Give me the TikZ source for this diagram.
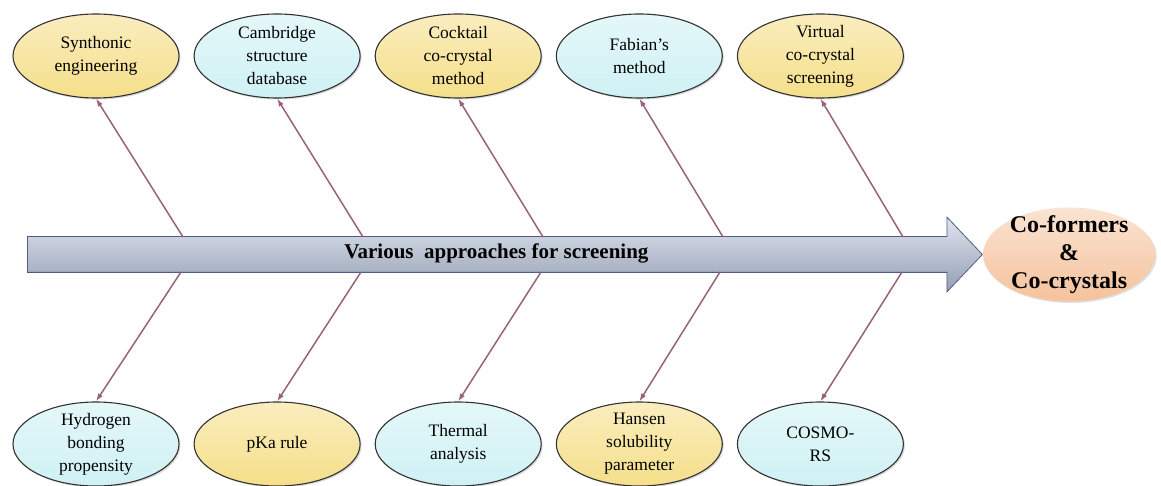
\documentclass[tikz,border=0pt]{standalone}
\usepackage{fontspec}
\setmainfont{Liberation Serif}
\usepackage{xcolor}
\usetikzlibrary{shapes.geometric,shapes.arrows,arrows.meta,positioning,shadows}
\definecolor{ovalYellow}{HTML}{F5DF8A}
\definecolor{ovalCyan}{HTML}{CFF1F4}
\definecolor{ovalPeach}{HTML}{F5C29C}
\definecolor{spineBlue}{HTML}{AEBBD3}
\definecolor{spineEdge}{HTML}{4E5E82}
\definecolor{boneMauve}{HTML}{98627A}

\begin{document}
\begin{tikzpicture}[
    x=1pt, y=1pt,
    node distance=14pt,
    >={Latex[length=8pt,width=5.5pt]},
    oval/.style={ellipse, draw=black!80, line width=1.1pt, minimum width=166pt, minimum height=84pt, inner sep=-2pt, align=center, font=\fontsize{17.5}{23}\selectfont, drop shadow={opacity=0.3, shadow xshift=1.5pt, shadow yshift=-1.5pt}},
    yoval/.style={oval, top color=ovalYellow!55!white, bottom color=ovalYellow},
    coval/.style={oval, top color=ovalCyan!55!white, bottom color=ovalCyan},
    bone/.style={->, draw=boneMauve, line width=1.5pt},
]

% Page frame
\useasboundingbox (0,0) rectangle (1161,485);

% Spine arrow
\node[single arrow, draw=spineEdge, thick, top color=spineBlue!40!white, bottom color=spineBlue!85!black,
      minimum height=955pt, single arrow head extend=19.5pt, single arrow tip angle=93, single arrow head indent=0pt,
      text height=13pt, text depth=4pt, inner ysep=9pt, font=\fontsize{21}{25}\selectfont\bfseries,
      anchor=tail] (spine) at (27,230.5) {Various\ \ approaches for screening};

% Result
\node[ellipse, draw=none, top color=ovalPeach!45!white, bottom color=ovalPeach, minimum width=172pt, minimum height=94pt,
      inner sep=-6pt, align=center, font=\fontsize{24}{28}\selectfont\bfseries, right=0pt of spine.tip,
      drop shadow={opacity=0.25, shadow xshift=1.5pt, shadow yshift=-1.5pt}] (result) {Co-formers\\\&\\Co-crystals};

% Upper approaches
\node[yoval] (synth) at (96,429) {Synthonic\\engineering};
\node[coval, right=of synth] (csd) {Cambridge\\structure\\database};
\node[yoval, right=of csd] (cocktail) {Cocktail\\co-crystal\\method};
\node[coval, right=of cocktail] (fabian) {Fabian's\\method};
\node[yoval, right=of fabian] (virtual) {Virtual\\co-crystal\\screening};

% Lower approaches
\node[coval] (hbp) at (96,41) {Hydrogen\\bonding\\propensity};
\node[yoval, right=of hbp] (pka) {pKa rule};
\node[coval, right=of pka] (thermal) {Thermal\\analysis};
\node[yoval, right=of thermal] (hansen) {Hansen\\solubility\\parameter};
\node[coval, right=of hansen] (cosmo) {COSMO-\\RS};

% Bone roots on the spine
\coordinate (t1) at (183,248);
\coordinate (t2) at (363,248);
\coordinate (t3) at (543,248);
\coordinate (t4) at (723,248);
\coordinate (t5) at (903,248);
\coordinate (b1) at (181,213);
\coordinate (b2) at (361,213);
\coordinate (b3) at (541,213);
\coordinate (b4) at (720,213);
\coordinate (b5) at (902,213);

% Bones
\draw[bone] (t1) -- (synth.south);
\draw[bone] (t2) -- (csd.south);
\draw[bone] (t3) -- (cocktail.south);
\draw[bone] (t4) -- (fabian.south);
\draw[bone] (t5) -- (virtual.south);
\draw[bone] (b1) -- (hbp.north);
\draw[bone] (b2) -- (pka.north);
\draw[bone] (b3) -- (thermal.north);
\draw[bone] (b4) -- (hansen.north);
\draw[bone] (b5) -- (cosmo.north);

\end{tikzpicture}
\end{document}
